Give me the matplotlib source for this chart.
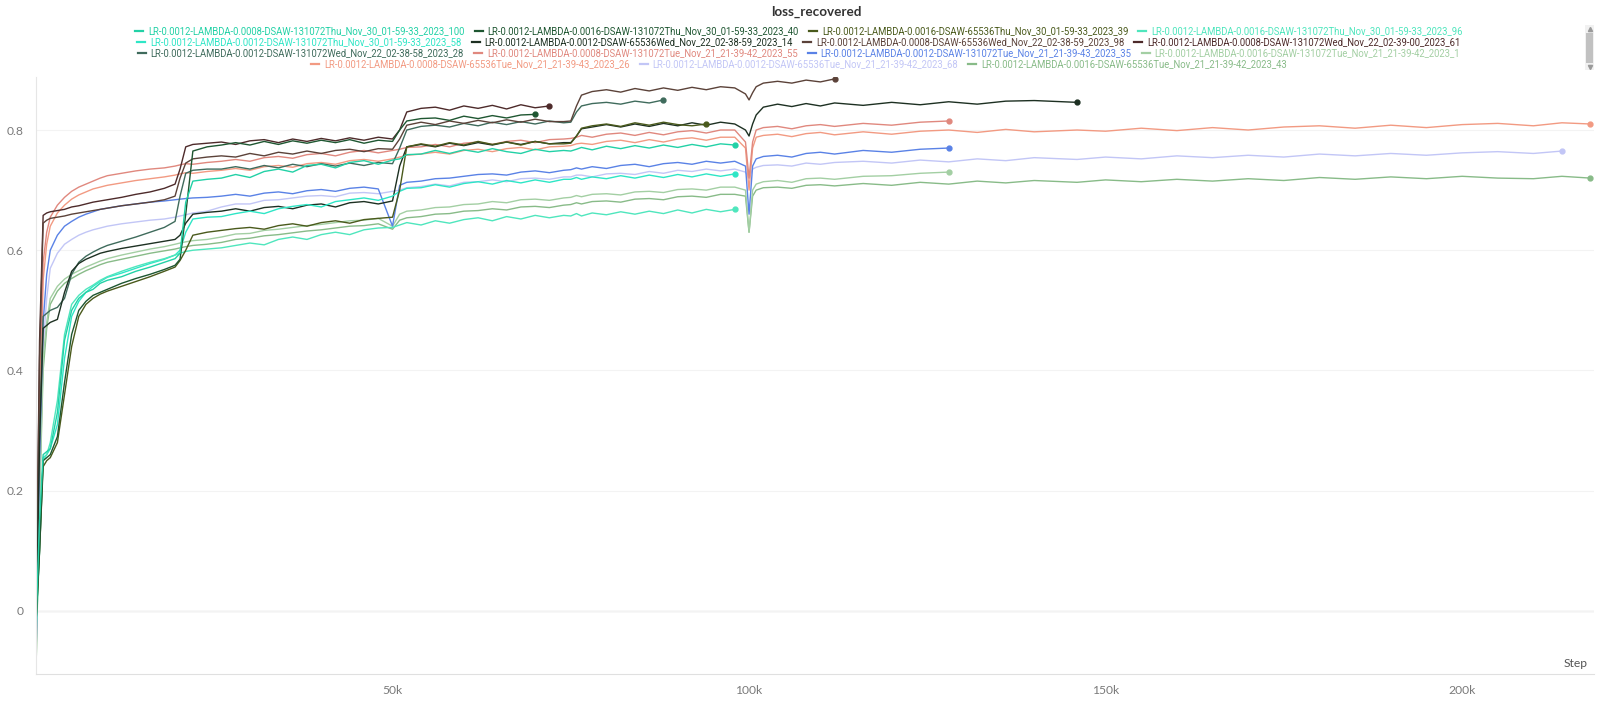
import matplotlib
matplotlib.use("Agg")
import matplotlib.pyplot as plt
from matplotlib import font_manager
from matplotlib.lines import Line2D
from matplotlib.patches import Rectangle

W, H = 1600, 701

# logged steps, in thousands (a run stops where its list of values stops)
STEP_K = [0, 0.5, 1, 1.5, 2, 3, 4, 5, 6, 7, 8, 9, 10,
          12, 14, 16, 18, 19.5, 20.2, 21, 22, 24,
          26, 28, 30, 32, 34, 36, 38, 40, 42, 44, 46, 48, 50,
          51, 52, 54, 56, 58, 60, 62, 64, 66, 68, 70, 72, 74,
          75, 75.8, 76.5, 78, 80, 82, 84, 86, 88, 90, 92, 94, 96, 98,
          99.5, 100, 100.5, 101, 102, 104, 106, 108, 110, 112,
          116, 120, 124, 128, 132, 136, 140, 146,
          150, 155, 160, 165, 170, 175, 180, 185, 190, 195, 200, 205, 210, 214, 218]

# --- Thu Nov 30 runs
thu_l0008_131072 = [-0.02, 0.15, 0.26, 0.265, 0.27, 0.33, 0.45, 0.5, 0.52, 0.53, 0.535, 0.545, 0.55,
                    0.556, 0.565, 0.572, 0.58, 0.586, 0.595, 0.68, 0.715, 0.718,
                    0.72, 0.726, 0.721, 0.731, 0.735, 0.73, 0.741, 0.743, 0.737, 0.746, 0.749, 0.743, 0.75,
                    0.752, 0.759, 0.76, 0.766, 0.761, 0.767, 0.763, 0.769, 0.764, 0.761, 0.768, 0.764, 0.766,
                    0.765, 0.768, 0.771, 0.767, 0.773, 0.769, 0.774, 0.77, 0.775, 0.771, 0.776, 0.772, 0.777, 0.775]
thu_l0016_131072_40 = [-0.02, 0.1, 0.25, 0.255, 0.26, 0.29, 0.38, 0.46, 0.5, 0.515, 0.525, 0.53, 0.535,
                       0.545, 0.553, 0.56, 0.568, 0.575, 0.585, 0.66, 0.765, 0.772,
                       0.775, 0.779, 0.775, 0.781, 0.776, 0.782, 0.778, 0.783, 0.779, 0.784, 0.778, 0.783, 0.781,
                       0.80, 0.815, 0.819, 0.82, 0.816, 0.823, 0.819, 0.824, 0.82, 0.825, 0.826]
thu_l0016_65536 = [-0.02, 0.1, 0.24, 0.25, 0.255, 0.28, 0.36, 0.44, 0.49, 0.51, 0.52, 0.527, 0.532,
                   0.54, 0.548, 0.556, 0.565, 0.572, 0.583, 0.60, 0.625, 0.63,
                   0.633, 0.636, 0.638, 0.635, 0.641, 0.644, 0.64, 0.646, 0.649, 0.645, 0.651, 0.653, 0.655,
                   0.70, 0.772, 0.777, 0.773, 0.779, 0.775, 0.781, 0.776, 0.78, 0.775, 0.781, 0.777, 0.777,
                   0.778, 0.79, 0.803, 0.807, 0.81, 0.806, 0.812, 0.808, 0.813, 0.809, 0.807, 0.81]
thu_l0016_131072_96 = [-0.04, 0.1, 0.25, 0.26, 0.28, 0.35, 0.46, 0.51, 0.525, 0.535, 0.542, 0.55, 0.556,
                       0.565, 0.573, 0.58, 0.586, 0.592, 0.595, 0.598, 0.60, 0.602,
                       0.604, 0.608, 0.612, 0.609, 0.618, 0.622, 0.618, 0.626, 0.63, 0.626, 0.634, 0.637, 0.638,
                       0.642, 0.646, 0.642, 0.649, 0.645, 0.651, 0.654, 0.649, 0.656, 0.652, 0.658, 0.654, 0.658,
                       0.657, 0.661, 0.657, 0.662, 0.659, 0.664, 0.66, 0.665, 0.661, 0.667, 0.662, 0.668, 0.664, 0.668]
thu_l0012_131072 = [-0.03, 0.12, 0.255, 0.26, 0.27, 0.31, 0.42, 0.49, 0.515, 0.53, 0.54, 0.548, 0.555,
                    0.562, 0.57, 0.578, 0.585, 0.592, 0.60, 0.63, 0.652, 0.655,
                    0.656, 0.661, 0.665, 0.661, 0.669, 0.673, 0.676, 0.672, 0.681, 0.684, 0.687, 0.683, 0.69,
                    0.698, 0.703, 0.704, 0.709, 0.705, 0.711, 0.714, 0.71, 0.716, 0.712, 0.717, 0.713, 0.718,
                    0.718, 0.721, 0.718, 0.722, 0.719, 0.724, 0.72, 0.725, 0.721, 0.726, 0.722, 0.727, 0.723, 0.727]

# --- Wed Nov 22 runs
wed_l0012_65536 = [-0.03, 0.28, 0.47, 0.475, 0.48, 0.485, 0.53, 0.565, 0.578, 0.585, 0.59, 0.595, 0.598,
                   0.603, 0.607, 0.611, 0.615, 0.618, 0.625, 0.645, 0.66, 0.663,
                   0.665, 0.669, 0.665, 0.671, 0.673, 0.669, 0.675, 0.677, 0.672, 0.679, 0.681, 0.677, 0.682,
                   0.74, 0.772, 0.776, 0.772, 0.778, 0.774, 0.779, 0.775, 0.78, 0.776, 0.781, 0.777, 0.779,
                   0.779, 0.79, 0.802, 0.805, 0.809, 0.805, 0.81, 0.806, 0.811, 0.807, 0.812, 0.808, 0.813, 0.81,
                   0.80, 0.79, 0.81, 0.825, 0.838, 0.843, 0.839, 0.844, 0.84, 0.845,
                   0.841, 0.846, 0.842, 0.847, 0.843, 0.848, 0.849, 0.846]
wed_l0008_65536 = [-0.02, 0.42, 0.645, 0.65, 0.653, 0.655, 0.657, 0.66, 0.662, 0.664, 0.666, 0.668, 0.67,
                   0.674, 0.677, 0.68, 0.684, 0.69, 0.72, 0.745, 0.752, 0.755,
                   0.757, 0.755, 0.761, 0.757, 0.763, 0.76, 0.765, 0.761, 0.766, 0.768, 0.764, 0.769, 0.768,
                   0.785, 0.808, 0.813, 0.809, 0.815, 0.811, 0.816, 0.812, 0.817, 0.813, 0.818, 0.814, 0.814,
                   0.815, 0.84, 0.858, 0.864, 0.867, 0.863, 0.869, 0.865, 0.87, 0.866, 0.871, 0.867, 0.872, 0.87,
                   0.86, 0.85, 0.862, 0.872, 0.878, 0.881, 0.878, 0.883, 0.88, 0.885]
wed_l0008_131072 = [-0.02, 0.45, 0.658, 0.662, 0.664, 0.666, 0.668, 0.672, 0.674, 0.677, 0.68, 0.682, 0.684,
                    0.688, 0.693, 0.697, 0.703, 0.71, 0.735, 0.772, 0.776, 0.778,
                    0.78, 0.776, 0.782, 0.784, 0.779, 0.785, 0.781, 0.786, 0.782, 0.787, 0.783, 0.788, 0.785,
                    0.80, 0.83, 0.836, 0.838, 0.833, 0.84, 0.836, 0.841, 0.835, 0.842, 0.837, 0.84]
wed_l0012_131072 = [-0.03, 0.3, 0.49, 0.495, 0.5, 0.505, 0.52, 0.56, 0.58, 0.59, 0.597, 0.603, 0.608,
                    0.615, 0.622, 0.63, 0.638, 0.648, 0.69, 0.728, 0.733, 0.735,
                    0.735, 0.739, 0.735, 0.741, 0.737, 0.743, 0.739, 0.744, 0.74, 0.745, 0.741, 0.746, 0.744,
                    0.77, 0.80, 0.806, 0.808, 0.805, 0.811, 0.807, 0.813, 0.809, 0.814, 0.81, 0.815, 0.812,
                    0.813, 0.83, 0.84, 0.844, 0.846, 0.843, 0.848, 0.845, 0.85]

# --- Tue Nov 21 runs
tue_l0008_131072 = [-0.06, 0.35, 0.58, 0.63, 0.655, 0.675, 0.688, 0.698, 0.705, 0.71, 0.715, 0.72, 0.724,
                    0.728, 0.732, 0.735, 0.737, 0.74, 0.742, 0.744, 0.743, 0.746,
                    0.748, 0.751, 0.748, 0.754, 0.756, 0.753, 0.759, 0.761, 0.757, 0.763, 0.766, 0.762, 0.766,
                    0.768, 0.771, 0.772, 0.776, 0.772, 0.778, 0.78, 0.776, 0.781, 0.783, 0.779, 0.784, 0.785,
                    0.786, 0.788, 0.791, 0.788, 0.793, 0.795, 0.791, 0.796, 0.792, 0.797, 0.799, 0.795, 0.8, 0.80,
                    0.78, 0.72, 0.78, 0.80, 0.804, 0.806, 0.802, 0.807, 0.809, 0.806,
                    0.811, 0.808, 0.813, 0.815]
tue_l0012_131072 = [-0.08, 0.25, 0.48, 0.56, 0.6, 0.625, 0.64, 0.648, 0.655, 0.66, 0.664, 0.668, 0.67,
                    0.674, 0.677, 0.68, 0.682, 0.684, 0.685, 0.686, 0.687, 0.688,
                    0.69, 0.693, 0.69, 0.695, 0.697, 0.694, 0.699, 0.701, 0.698, 0.703, 0.705, 0.702, 0.64,
                    0.708, 0.713, 0.715, 0.719, 0.72, 0.723, 0.726, 0.727, 0.725, 0.73, 0.732, 0.729, 0.733,
                    0.734, 0.737, 0.735, 0.739, 0.736, 0.741, 0.743, 0.739, 0.744, 0.746, 0.743, 0.748, 0.745, 0.748,
                    0.74, 0.66, 0.74, 0.752, 0.756, 0.758, 0.755, 0.761, 0.763, 0.76,
                    0.766, 0.763, 0.768, 0.77]
tue_l0016_131072 = [-0.1, 0.2, 0.42, 0.48, 0.52, 0.54, 0.552, 0.56, 0.566, 0.572, 0.577, 0.582, 0.586,
                    0.592, 0.597, 0.602, 0.606, 0.61, 0.612, 0.614, 0.616, 0.618,
                    0.622, 0.627, 0.628, 0.633, 0.635, 0.638, 0.641, 0.643, 0.646, 0.649, 0.65, 0.653, 0.64,
                    0.66, 0.665, 0.667, 0.671, 0.672, 0.676, 0.677, 0.681, 0.679, 0.684, 0.685, 0.683, 0.687,
                    0.688, 0.691, 0.689, 0.693, 0.694, 0.692, 0.697, 0.698, 0.696, 0.701, 0.702, 0.7, 0.705, 0.705,
                    0.70, 0.63, 0.70, 0.71, 0.714, 0.716, 0.713, 0.719, 0.72, 0.718,
                    0.723, 0.724, 0.728, 0.73]
tue_l0008_65536 = [-0.07, 0.3, 0.55, 0.61, 0.64, 0.662, 0.675, 0.685, 0.692, 0.697, 0.702, 0.705, 0.708,
                   0.712, 0.716, 0.719, 0.722, 0.725, 0.727, 0.729, 0.728, 0.731,
                   0.733, 0.736, 0.733, 0.739, 0.741, 0.738, 0.744, 0.746, 0.743, 0.749, 0.751, 0.748, 0.752,
                   0.755, 0.758, 0.76, 0.763, 0.76, 0.766, 0.768, 0.764, 0.769, 0.771, 0.767, 0.772, 0.773,
                   0.774, 0.777, 0.778, 0.776, 0.781, 0.783, 0.779, 0.784, 0.78, 0.785, 0.787, 0.783, 0.788, 0.788,
                   0.77, 0.70, 0.77, 0.788, 0.791, 0.793, 0.789, 0.794, 0.796, 0.792,
                   0.797, 0.793, 0.798, 0.8, 0.796, 0.801, 0.797, 0.80,
                   0.798, 0.803, 0.799, 0.804, 0.8, 0.805, 0.807, 0.803, 0.808, 0.804, 0.809, 0.811, 0.807, 0.812, 0.81]
tue_l0012_65536 = [-0.08, 0.22, 0.44, 0.52, 0.57, 0.595, 0.61, 0.618, 0.625, 0.63, 0.634, 0.637, 0.64,
                   0.644, 0.647, 0.65, 0.652, 0.655, 0.657, 0.659, 0.662, 0.665,
                   0.672, 0.677, 0.677, 0.683, 0.684, 0.687, 0.69, 0.691, 0.689, 0.695, 0.696, 0.694, 0.698,
                   0.70, 0.704, 0.706, 0.71, 0.707, 0.713, 0.714, 0.717, 0.714, 0.719, 0.72, 0.718, 0.722,
                   0.722, 0.725, 0.725, 0.722, 0.727, 0.728, 0.726, 0.731, 0.728, 0.733, 0.731, 0.735, 0.732, 0.735,
                   0.73, 0.72, 0.735, 0.738, 0.741, 0.742, 0.74, 0.745, 0.743, 0.746,
                   0.748, 0.745, 0.75, 0.747, 0.752, 0.749, 0.754, 0.751,
                   0.755, 0.752, 0.757, 0.754, 0.758, 0.755, 0.76, 0.757, 0.761, 0.758, 0.762, 0.764, 0.761, 0.765]
tue_l0016_65536 = [-0.1, 0.18, 0.4, 0.47, 0.51, 0.532, 0.545, 0.553, 0.56, 0.566, 0.571, 0.576, 0.58,
                   0.585, 0.59, 0.595, 0.599, 0.602, 0.604, 0.606, 0.608, 0.61,
                   0.613, 0.618, 0.62, 0.624, 0.626, 0.629, 0.632, 0.634, 0.637, 0.64, 0.641, 0.644, 0.635,
                   0.65, 0.654, 0.656, 0.66, 0.661, 0.665, 0.666, 0.669, 0.667, 0.672, 0.673, 0.671, 0.675,
                   0.676, 0.679, 0.677, 0.681, 0.682, 0.68, 0.685, 0.686, 0.684, 0.689, 0.69, 0.688, 0.693, 0.693,
                   0.69, 0.63, 0.69, 0.70, 0.704, 0.705, 0.703, 0.708, 0.709, 0.707,
                   0.711, 0.708, 0.713, 0.71, 0.715, 0.712, 0.716, 0.713,
                   0.717, 0.714, 0.718, 0.715, 0.719, 0.716, 0.721, 0.718, 0.722, 0.719, 0.723, 0.72, 0.719, 0.723, 0.72]

RUN_NAMES = [
    "LR-0.0012-LAMBDA-0.0008-DSAW-131072Thu_Nov_30_01-59-33_2023_100",
    "LR-0.0012-LAMBDA-0.0016-DSAW-131072Thu_Nov_30_01-59-33_2023_40",
    "LR-0.0012-LAMBDA-0.0016-DSAW-65536Thu_Nov_30_01-59-33_2023_39",
    "LR-0.0012-LAMBDA-0.0016-DSAW-131072Thu_Nov_30_01-59-33_2023_96",
    "LR-0.0012-LAMBDA-0.0012-DSAW-131072Thu_Nov_30_01-59-33_2023_58",
    "LR-0.0012-LAMBDA-0.0012-DSAW-65536Wed_Nov_22_02-38-59_2023_14",
    "LR-0.0012-LAMBDA-0.0008-DSAW-65536Wed_Nov_22_02-38-59_2023_98",
    "LR-0.0012-LAMBDA-0.0008-DSAW-131072Wed_Nov_22_02-39-00_2023_61",
    "LR-0.0012-LAMBDA-0.0012-DSAW-131072Wed_Nov_22_02-38-58_2023_28",
    "LR-0.0012-LAMBDA-0.0008-DSAW-131072Tue_Nov_21_21-39-42_2023_55",
    "LR-0.0012-LAMBDA-0.0012-DSAW-131072Tue_Nov_21_21-39-43_2023_35",
    "LR-0.0012-LAMBDA-0.0016-DSAW-131072Tue_Nov_21_21-39-42_2023_1",
    "LR-0.0012-LAMBDA-0.0008-DSAW-65536Tue_Nov_21_21-39-43_2023_26",
    "LR-0.0012-LAMBDA-0.0012-DSAW-65536Tue_Nov_21_21-39-42_2023_68",
    "LR-0.0012-LAMBDA-0.0016-DSAW-65536Tue_Nov_21_21-39-42_2023_43",
]
RUN_COLORS = ["#22d1a6", "#1e5631", "#4a5a1c", "#4fe6bd", "#2ee6c6",
              "#1d3022", "#5b4239", "#4d2a2a", "#3f6b5c", "#e0887e",
              "#5a82e6", "#a3cfa3", "#f29a82", "#c2c6f6", "#88bb88"]
RUN_VALUES = [thu_l0008_131072, thu_l0016_131072_40, thu_l0016_65536, thu_l0016_131072_96,
              thu_l0012_131072, wed_l0012_65536, wed_l0008_65536, wed_l0008_131072,
              wed_l0012_131072, tue_l0008_131072, tue_l0012_131072, tue_l0016_131072,
              tue_l0008_65536, tue_l0012_65536, tue_l0016_65536]
LEGEND_ROWS = [4, 4, 4, 3]


def have_font(name):
    try:
        font_manager.findfont(font_manager.FontProperties(family=name), fallback_to_default=False)
        return True
    except Exception:
        return False


legend_family = "Liberation Sans Narrow" if have_font("Liberation Sans Narrow") else "Roboto"
plt.rcParams["font.family"] = ["Lato", "DejaVu Sans"]

fig = plt.figure(figsize=(W / 100, H / 100), dpi=100)
# axes box in pixels: x 36..1594, y 76.5..673.5
ax = fig.add_axes([36 / W, 1 - 673.5 / H, (1594 - 36) / W, (673.5 - 76.5) / H])

for name, color, vals in reversed(list(zip(RUN_NAMES, RUN_COLORS, RUN_VALUES))):
    xs = [s * 1000 for s in STEP_K[:len(vals)]]
    ax.plot(xs, vals, color=color, lw=1.0, solid_joinstyle="round")
    ax.plot(xs[-1], vals[-1], "o", ms=3.5, color=color, mec=color)

ax.set_xlim(0, 218500)
ax.set_ylim(-0.104, 0.889)
ax.set_xticks([50000, 100000, 150000, 200000])
ax.set_xticklabels(["50k", "100k", "150k", "200k"])
ax.set_yticks([0, 0.2, 0.4, 0.6, 0.8])
ax.set_yticklabels(["0", "0.2", "0.4", "0.6", "0.8"])
ax.tick_params(length=0, labelsize=8.7, colors="#7a7a7a")
ax.tick_params(axis="y", pad=9)
ax.tick_params(axis="x", pad=8)
ax.yaxis.grid(True, color="#f3f3f3", lw=0.8)
ax.set_axisbelow(True)
ax.axhline(0, color="#dcdcdc", lw=1, zorder=0.5)
for side in ["top", "right"]:
    ax.spines[side].set_visible(False)
ax.spines["left"].set_color("#e6e6e6")
ax.spines["bottom"].set_color("#e0e0e0")
ax.text(0.996, 0.008, "Step", transform=ax.transAxes, ha="right", va="bottom",
        fontsize=8.7, color="#555555")

fig.text(816 / W, 1 - 11.5 / H, "loss_recovered", ha="center", va="center",
         fontsize=9.7, fontweight="bold", color="#333333")

# legend laid out as centred rows, texts coloured like their runs
fig.canvas.draw()
renderer = fig.canvas.get_renderer()
probe = fig.text(0, 0, RUN_NAMES[0], fontsize=10, family=[legend_family, "DejaVu Sans"])
probe_w = probe.get_window_extent(renderer).width
probe.remove()
leg_size = 10 * 318 / probe_w

row_y = [30.6, 41.8, 53.0, 64.3]
k = 0
for r, n in enumerate(LEGEND_ROWS):
    items = []
    for i in range(k, k + n):
        t = fig.text(0, 1 - row_y[r] / H, RUN_NAMES[i], fontsize=leg_size, color=RUN_COLORS[i],
                     family=[legend_family, "DejaVu Sans"], va="center", ha="left")
        items.append((i, t, t.get_window_extent(renderer).width))
    total = sum(13 + w for _, _, w in items) + 10 * (n - 1)
    x = 799 - total / 2
    for i, t, w in items:
        y = 1 - row_y[r] / H
        fig.add_artist(Line2D([x / W, (x + 8) / W], [y, y], color=RUN_COLORS[i], lw=1.6))
        t.set_x((x + 13) / W)
        x += 13 + w + 10
    k += n

# scroll bar of the legend box
fig.add_artist(Rectangle((1585 / W, 1 - 69.5 / H), 9 / W, 44 / H, color="#f1f1f1", lw=0))
fig.add_artist(Rectangle((1586 / W, 1 - 63 / H), 7 / W, 30 / H, color="#c1c1c1", lw=0))
fig.add_artist(Line2D([1589.5 / W], [1 - 28.5 / H], marker="^", ms=3, color="#9a9a9a", lw=0))
fig.add_artist(Line2D([1589.5 / W], [1 - 66.5 / H], marker="v", ms=3, color="#9a9a9a", lw=0))

fig.savefig("out.png", dpi=100)
